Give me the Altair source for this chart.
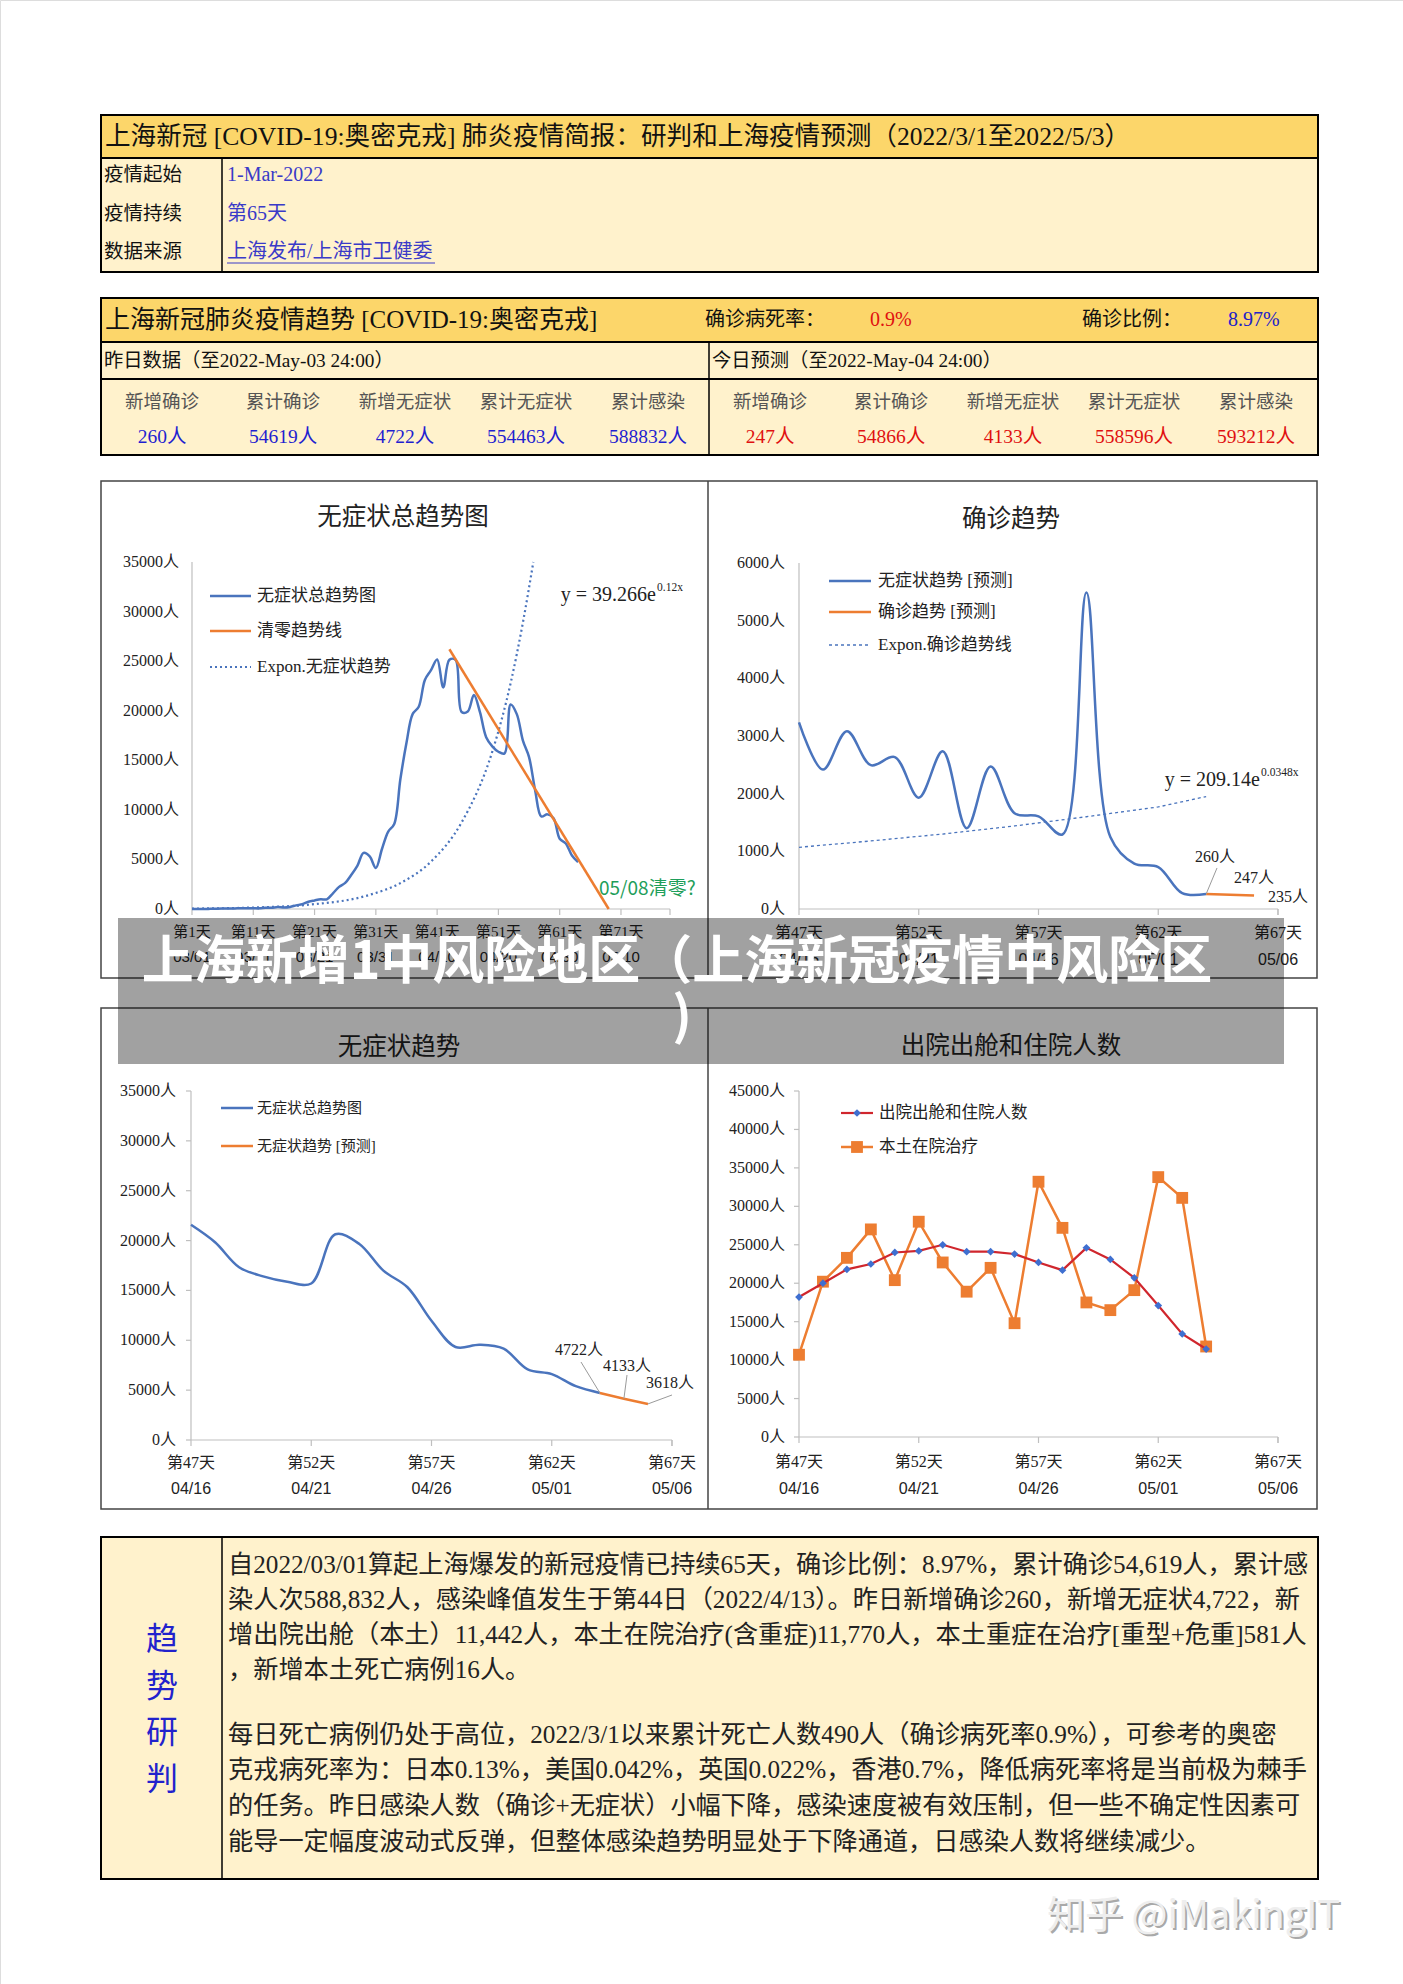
import altair as alt
import pandas as pd

# ---------------- data ----------------
# Chart 1: daily asymptomatic cases, day 1 (03/01) .. day 64 (05/03)
c1_days = list(range(1, 65))
c1_asym = [1, 2, 3, 16, 28, 45, 51, 62, 76, 64, 78, 64, 128, 130, 197, 150, 203, 366, 492, 734,
           865, 977, 979, 1580, 2231, 2631, 3450, 4381, 5656, 5298, 4144, 6051, 7788, 8581, 13086, 16766, 19660, 20398, 23107, 24091,
           25173, 22348, 25141, 25146, 19872, 19923, 21582, 19831, 17332, 16407, 15861, 15698, 20634, 19657, 16983, 15319, 11956, 9330, 9545, 9153,
           7084, 6606, 5395, 4722]
c1_clear_days = [43, 69]
c1_clear_vals = [26200, 0]
c1_expo_days = [1, 10, 20, 30, 35, 40, 45, 50, 53, 55, 56.7]
c1_expo_vals = [44, 130, 430, 1430, 2610, 4780, 8740, 15870, 22800, 28900, 35000]
c1_tick_days = [1, 11, 21, 31, 41, 51, 61, 71]
c1_tick_labels = ["第1天", "第11天", "第21天", "第31天", "第41天", "第51天", "第61天", "第71天"]
c1_tick_dates = ["03/01", "03/11", "03/21", "03/31", "04/10", "04/20", "04/30", "05/10"]

# Chart 2: daily confirmed, day 47 .. 64, forecast 64 .. 66
c2_days = list(range(47, 65))
c2_conf = [3238, 2417, 3084, 2494, 2634, 1931, 2736, 1401, 2472, 1661, 1606, 1292, 5487, 1249, 788, 727, 274, 260]
c2_pred_days = [64, 65, 66]
c2_pred_vals = [260, 247, 235]
c2_expo_days = [47, 50, 53, 56, 59, 62, 64]
c2_expo_vals = [1070, 1180, 1300, 1440, 1600, 1770, 1950]

# Chart 3: daily asymptomatic, day 47 .. 64, forecast 64 .. 66
c3_days = list(range(47, 65))
c3_asym = [21582, 19831, 17332, 16407, 15861, 15698, 20634, 19657, 16983, 15319, 11956, 9330, 9545, 9153, 7084, 6606, 5395, 4722]
c3_pred_days = [64, 65, 66]
c3_pred_vals = [4722, 4133, 3618]

# Chart 4: discharged and hospitalised, day 47 .. 64
c4_days = list(range(47, 65))
c4_discharge = [18200, 20000, 21800, 22500, 24000, 24200, 25000, 24100, 24100, 23800, 22700, 21700, 24600, 23100, 20700, 17100, 13400, 11442]
c4_hospital = [10700, 20200, 23300, 27000, 20400, 28000, 22700, 18900, 22000, 14800, 33200, 27200, 17500, 16500, 19100, 33800, 31100, 11770]

late_tick_days = [47, 52, 57, 62, 67]
late_tick_labels = ["第47天", "第52天", "第57天", "第62天", "第67天"]
late_tick_dates = ["04/16", "04/21", "04/26", "05/01", "05/06"]

# Tables
t1_labels = ["疫情起始", "疫情持续", "数据来源"]
t1_values = ["1-Mar-2022", "第65天", "上海发布/上海市卫健委"]
t2_cols = ["新增确诊", "累计确诊", "新增无症状", "累计无症状", "累计感染"]
t2_yesterday = ["260人", "54619人", "4722人", "554463人", "588832人"]
t2_today = ["247人", "54866人", "4133人", "558596人", "593212人"]

para_lines = [
    "自2022/03/01算起上海爆发的新冠疫情已持续65天，确诊比例：8.97%，累计确诊54,619人，累计感",
    "染人次588,832人，感染峰值发生于第44日（2022/4/13）。昨日新增确诊260，新增无症状4,722，新",
    "增出院出舱（本土）11,442人，本土在院治疗(含重症)11,770人，本土重症在治疗[重型+危重]581人",
    "，新增本土死亡病例16人。",
    "每日死亡病例仍处于高位，2022/3/1以来累计死亡人数490人（确诊病死率0.9%），可参考的奥密",
    "克戎病死率为：日本0.13%，美国0.042%，英国0.022%，香港0.7%，降低病死率将是当前极为棘手",
    "的任务。昨日感染人数（确诊+无症状）小幅下降，感染速度被有效压制，但一些不确定性因素可",
    "能导一定幅度波动式反弹，但整体感染趋势明显处于下降通道，日感染人数将继续减少。",
]

# ---------------- styles ----------------
SERIF = "'Liberation Serif', 'Noto Sans CJK SC', serif"
SANS = "'Noto Sans CJK SC', 'Liberation Sans', sans-serif"
DATEF = "'Liberation Sans', 'Noto Sans CJK SC', sans-serif"
BLUE = "#4a74bd"
ORANGE = "#ed7d31"
RED = "#d0262d"
GOLD = "#fcd66a"
CREAM = "#fff2cc"
AXIS = "#bfbfbf"

layers = []


def rects(rows, stroke="#000", sw=2.0, opacity=1.0):
    df = pd.DataFrame(rows, columns=["x", "x2", "y", "y2", "f"])
    return alt.Chart(df).mark_rect(stroke=stroke, strokeWidth=sw, opacity=opacity).encode(
        x=alt.X("x:Q", scale=None, axis=None), x2="x2:Q",
        y=alt.Y("y:Q", scale=None, axis=None), y2="y2:Q",
        fill=alt.Color("f:N", scale=None))


def segs(rows, color="#000", sw=1.5, dash=None):
    df = pd.DataFrame(rows, columns=["x", "x2", "y", "y2"])
    kw = dict(color=color, strokeWidth=sw)
    if dash:
        kw["strokeDash"] = dash
    return alt.Chart(df).mark_rule(**kw).encode(
        x=alt.X("x:Q", scale=None, axis=None), x2="x2:Q",
        y=alt.Y("y:Q", scale=None, axis=None), y2="y2:Q")


def texts(rows, align="left", font=SERIF, weight="normal", baseline="middle", opacity=1.0):
    df = pd.DataFrame(rows, columns=["x", "y", "t", "s", "c"])
    return alt.Chart(df).mark_text(align=align, baseline=baseline, font=font,
                                   fontWeight=weight, opacity=opacity).encode(
        x=alt.X("x:Q", scale=None, axis=None), y=alt.Y("y:Q", scale=None, axis=None),
        text="t:N", size=alt.Size("s:Q", scale=None), color=alt.Color("c:N", scale=None))


def sc(domain, rng):
    return alt.Scale(domain=domain, range=rng, nice=False, zero=False)


def line(days, vals, sx, sy, color, sw=2.5, dash=None, interp="linear"):
    df = pd.DataFrame({"d": days, "v": vals})
    kw = dict(color=color, strokeWidth=sw, interpolate=interp)
    if dash:
        kw["strokeDash"] = dash
    return alt.Chart(df).mark_line(**kw).encode(
        x=alt.X("d:Q", scale=sx, axis=None), y=alt.Y("v:Q", scale=sy, axis=None), order="d:Q")


def axes(sx, sy, xd, yd, ystep, x0px, y0px, ylab_x, xlab_y, date_y, tdays, tlabels, tdates,
         ytick=False, xfs=16):
    out = []
    out.append(alt.Chart(pd.DataFrame({"a": [xd[0]], "b": [xd[1]], "c": [yd[0]]})).mark_rule(
        color=AXIS, strokeWidth=1.2).encode(
        x=alt.X("a:Q", scale=sx, axis=None), x2="b:Q", y=alt.Y("c:Q", scale=sy, axis=None)))
    out.append(alt.Chart(pd.DataFrame({"a": [xd[0]], "c": [yd[0]], "e": [yd[1]]})).mark_rule(
        color=AXIS, strokeWidth=1.2).encode(
        x=alt.X("a:Q", scale=sx, axis=None), y=alt.Y("c:Q", scale=sy, axis=None), y2="e:Q"))
    tdf = pd.DataFrame({"d": tdays + [xd[1]]})
    out.append(alt.Chart(tdf).mark_rule(color=AXIS, strokeWidth=1.2).encode(
        x=alt.X("d:Q", scale=sx, axis=None), y=alt.value(y0px), y2=alt.value(y0px + 6)))
    ldf = pd.DataFrame({"d": tdays, "t": tlabels, "q": tdates})
    out.append(alt.Chart(ldf).mark_text(font=SERIF, fontSize=xfs, color="#222", baseline="middle").encode(
        x=alt.X("d:Q", scale=sx, axis=None), y=alt.value(xlab_y), text="t:N"))
    out.append(alt.Chart(ldf).mark_text(font=DATEF, fontSize=xfs, color="#222", baseline="middle").encode(
        x=alt.X("d:Q", scale=sx, axis=None), y=alt.value(date_y), text="q:N"))
    yv = list(range(yd[0], yd[1] + 1, ystep))
    ydf = pd.DataFrame({"v": yv, "t": [f"{v}人" for v in yv]})
    out.append(alt.Chart(ydf).mark_text(font=SERIF, fontSize=16, color="#222", align="right",
                                        baseline="middle").encode(
        x=alt.value(ylab_x), y=alt.Y("v:Q", scale=sy, axis=None), text="t:N"))
    if ytick:
        out.append(alt.Chart(ydf).mark_rule(color=AXIS, strokeWidth=1.2).encode(
            x=alt.value(x0px - 5), x2=alt.value(x0px), y=alt.Y("v:Q", scale=sy, axis=None)))
    return out


# ---------------- page boxes ----------------
layers.append(rects([
    (101, 1318, 115, 272, CREAM), (101, 1318, 115, 158, GOLD),
    (101, 1318, 298, 455, CREAM), (101, 1318, 298, 342, GOLD),
    (101, 1318, 342, 379, CREAM),
    (101, 1318, 1537, 1879, CREAM),
]))
layers.append(rects([
    (101, 1317, 481, 978, "#ffffff"), (101, 1317, 1008, 1509, "#ffffff"),
], stroke="#444", sw=1.5))
layers.append(segs([
    (222, 222, 158, 272), (709, 709, 342, 455), (222, 222, 1537, 1879),
], sw=1.5))
layers.append(segs([(708, 708, 481, 978), (708, 708, 1008, 1509)], color="#444", sw=1.5))

# ---------------- table 1 ----------------
t1 = [(105, 137, "上海新冠 [COVID-19:奥密克戎] 肺炎疫情简报：研判和上海疫情预测（2022/3/1至2022/5/3）", 25.6, "#111")]
for i, (lab, val) in enumerate(zip(t1_labels, t1_values)):
    yy = [175, 214, 252][i]
    t1.append((104, yy, lab, 19.5, "#111"))
    t1.append((227, yy, val, 20, "#3a3ac8"))
layers.append(texts(t1))
layers.append(segs([(227, 435, 263, 263)], color="#3a3ac8", sw=1))

# ---------------- table 2 ----------------
t2 = [
    (105, 320, "上海新冠肺炎疫情趋势 [COVID-19:奥密克戎]", 25, "#111"),
    (705, 320, "确诊病死率：", 20, "#111"), (870, 320, "0.9%", 20, "#e01010"),
    (1082, 320, "确诊比例：", 20, "#111"), (1228, 320, "8.97%", 20, "#2020c8"),
    (104, 361, "昨日数据（至2022-May-03 24:00）", 19.3, "#111"),
    (712, 361, "今日预测（至2022-May-04 24:00）", 19.3, "#111"),
]
layers.append(texts(t2))
cx_left = [162, 283, 405, 526, 648]
cx_right = [770, 891, 1013, 1134, 1256]
t2c = []
for i in range(5):
    t2c.append((cx_left[i], 402, t2_cols[i], 18.5, "#555"))
    t2c.append((cx_right[i], 402, t2_cols[i], 18.5, "#555"))
    t2c.append((cx_left[i], 437, t2_yesterday[i], 19.5, "#1f1fd0"))
    t2c.append((cx_right[i], 437, t2_today[i], 19.5, "#e01010"))
layers.append(texts(t2c, align="center"))

# ---------------- chart 1 ----------------
s1x, s1y = sc([1, 79], [192, 670]), sc([0, 35000], [909, 562])
layers += axes(s1x, s1y, [1, 79], [0, 35000], 5000, 192, 909, 179, 932, 957,
               c1_tick_days, c1_tick_labels, c1_tick_dates, xfs=15)
layers.append(line(c1_expo_days, c1_expo_vals, s1x, s1y, BLUE, sw=2.2, dash=[2, 3], interp="monotone"))
layers.append(line(c1_days, c1_asym, s1x, s1y, BLUE, sw=2.5, interp="catmull-rom"))
layers.append(line(c1_clear_days, c1_clear_vals, s1x, s1y, ORANGE, sw=2.5))

# ---------------- chart 2 ----------------
s2x, s2y = sc([47, 67], [799, 1278]), sc([0, 6000], [909, 563])
layers += axes(s2x, s2y, [47, 67], [0, 6000], 1000, 799, 909, 785, 933, 960,
               late_tick_days, late_tick_labels, late_tick_dates)
layers.append(line(c2_expo_days, c2_expo_vals, s2x, s2y, BLUE, sw=1.3, dash=[3, 3]))
layers.append(line(c2_days, c2_conf, s2x, s2y, BLUE, sw=2.5, interp="catmull-rom"))
layers.append(line(c2_pred_days, c2_pred_vals, s2x, s2y, ORANGE, sw=2.5))

# ---------------- chart 3 ----------------
s3x, s3y = sc([47, 67], [191, 672]), sc([0, 35000], [1440, 1091])
layers += axes(s3x, s3y, [47, 67], [0, 35000], 5000, 191, 1440, 176, 1463, 1489,
               late_tick_days, late_tick_labels, late_tick_dates, ytick=True)
layers.append(line(c3_days, c3_asym, s3x, s3y, BLUE, sw=2.5, interp="catmull-rom"))
layers.append(line(c3_pred_days, c3_pred_vals, s3x, s3y, ORANGE, sw=2.5))

# ---------------- chart 4 ----------------
s4x, s4y = sc([47, 67], [799, 1278]), sc([0, 45000], [1437, 1091])
layers += axes(s4x, s4y, [47, 67], [0, 45000], 5000, 799, 1437, 785, 1462, 1489,
               late_tick_days, late_tick_labels, late_tick_dates, ytick=True)
layers.append(line(c4_days, c4_hospital, s4x, s4y, ORANGE, sw=2.5))
layers.append(alt.Chart(pd.DataFrame({"d": c4_days, "v": c4_hospital})).mark_square(
    size=140, color=ORANGE, opacity=1).encode(
    x=alt.X("d:Q", scale=s4x, axis=None), y=alt.Y("v:Q", scale=s4y, axis=None)))
layers.append(line(c4_days, c4_discharge, s4x, s4y, RED, sw=2.2))
layers.append(alt.Chart(pd.DataFrame({"d": c4_days, "v": c4_discharge})).mark_point(
    shape="diamond", filled=True, size=60, color="#3f6fd0", opacity=1).encode(
    x=alt.X("d:Q", scale=s4x, axis=None), y=alt.Y("v:Q", scale=s4y, axis=None)))


# ---------------- annotations (leader lines through scales) ----------------
def leader(sx, sy, d, v, px, py):
    return alt.Chart(pd.DataFrame({"d": [d], "v": [v]})).mark_rule(color="#9a9a9a", strokeWidth=1).encode(
        x=alt.X("d:Q", scale=sx, axis=None), y=alt.Y("v:Q", scale=sy, axis=None),
        x2=alt.value(px), y2=alt.value(py))


layers.append(leader(s2x, s2y, c2_pred_days[0], c2_pred_vals[0], 1217, 868))
layers.append(leader(s3x, s3y, c3_pred_days[0], c3_pred_vals[0], 581, 1362))
layers.append(leader(s3x, s3y, c3_pred_days[1], c3_pred_vals[1], 627, 1375))
layers.append(leader(s3x, s3y, c3_pred_days[2], c3_pred_vals[2], 672, 1395))
layers.append(texts([
    (1215, 857, f"{c2_pred_vals[0]}人", 16, "#222"),
    (1254, 878, f"{c2_pred_vals[1]}人", 16, "#222"),
    (1288, 897, f"{c2_pred_vals[2]}人", 16, "#222"),
    (579, 1350, f"{c3_pred_vals[0]}人", 16, "#222"),
    (627, 1366, f"{c3_pred_vals[1]}人", 16, "#222"),
    (670, 1383, f"{c3_pred_vals[2]}人", 16, "#222"),
], align="center"))

# ---------------- titles, legends, equations ----------------
layers.append(texts([
    (403, 518, "无症状总趋势图", 24.5, "#222"),
    (1011, 520, "确诊趋势", 24.5, "#222"),
    (399, 1048, "无症状趋势", 24.5, "#222"),
    (1011, 1047, "出院出舱和住院人数", 24.5, "#222"),
], align="center"))
layers.append(segs([(210, 251, 596, 596), (829, 871, 581, 581), (221, 253, 1108, 1108)], color=BLUE, sw=2.5))
layers.append(segs([(210, 251, 631, 631), (829, 871, 612, 612), (221, 253, 1146, 1146), (841, 873, 1147, 1147)],
                   color=ORANGE, sw=2.5))
layers.append(segs([(841, 873, 1113, 1113)], color=RED, sw=2.2))
layers.append(segs([(210, 251, 667, 667)], color=BLUE, sw=2.2, dash=[2, 3]))
layers.append(segs([(829, 871, 645, 645)], color=BLUE, sw=1.3, dash=[3, 3]))
layers.append(alt.Chart(pd.DataFrame({"x": [857], "y": [1147]})).mark_square(size=140, color=ORANGE, opacity=1).encode(
    x=alt.X("x:Q", scale=None, axis=None), y=alt.Y("y:Q", scale=None, axis=None)))
layers.append(alt.Chart(pd.DataFrame({"x": [857], "y": [1113]})).mark_point(
    shape="diamond", filled=True, size=60, color="#3f6fd0", opacity=1).encode(
    x=alt.X("x:Q", scale=None, axis=None), y=alt.Y("y:Q", scale=None, axis=None)))
layers.append(texts([
    (257, 596, "无症状总趋势图", 17, "#222"),
    (257, 631, "清零趋势线", 17, "#222"),
    (257, 667, "Expon.无症状趋势", 17, "#222"),
    (878, 581, "无症状趋势 [预测]", 17, "#222"),
    (878, 612, "确诊趋势 [预测]", 17, "#222"),
    (878, 645, "Expon.确诊趋势线", 17, "#222"),
    (257, 1108, "无症状总趋势图", 15, "#222"),
    (257, 1146, "无症状趋势 [预测]", 15, "#222"),
    (879, 1113, "出院出舱和住院人数", 16.5, "#222"),
    (879, 1147, "本土在院治疗", 16.5, "#222"),
]))
layers.append(texts([
    (656, 595, "y = 39.266e", 20, "#222"),
    (1260, 780, "y = 209.14e", 20, "#222"),
], align="right"))
layers.append(texts([
    (657, 588, "0.12x", 11.5, "#222"),
    (1261, 773, "0.0348x", 11.5, "#222"),
]))
layers.append(texts([(599, 889, "05/08清零?", 19, "#1e9e5a")], font=SANS))

# ---------------- bottom text box ----------------
para_y = [1565, 1600, 1635, 1670, 1735, 1770, 1806, 1842]
layers.append(texts([(228, y, t, 25.2, "#222") for y, t in zip(para_y, para_lines)]))
layers.append(texts([(162, y, ch, 32, "#2222cc") for y, ch in zip([1640, 1687, 1733, 1780], "趋势研判")],
                    align="center"))

# ---------------- overlay banner ----------------
layers.append(rects([(118, 1284, 918, 1064, "#000000")], stroke="#000", sw=0, opacity=0.37))
layers.append(texts([(677, 963, "上海新增1中风险地区（上海新冠疫情中风险区", 52, "#ffffff"),
                     (682, 1018, ")", 52, "#ffffff")], align="center", font=SANS, weight="bold"))

# ---------------- watermark ----------------
layers.append(texts([(1049, 1919, "知乎 @iMakingIT", 38, "#a9a9a9")], font=SANS))
layers.append(texts([(1047, 1917, "知乎 @iMakingIT", 38, "#eeeeee")], font=SANS))

chart = alt.layer(*layers).resolve_scale(x="independent", y="independent").properties(
    width=1403, height=1984, autosize=alt.AutoSizeParams(type="none"), padding=0
).configure_view(strokeWidth=0).configure(background="white")

chart.save("out.html", embed_options={"renderer": "svg", "actions": False})
